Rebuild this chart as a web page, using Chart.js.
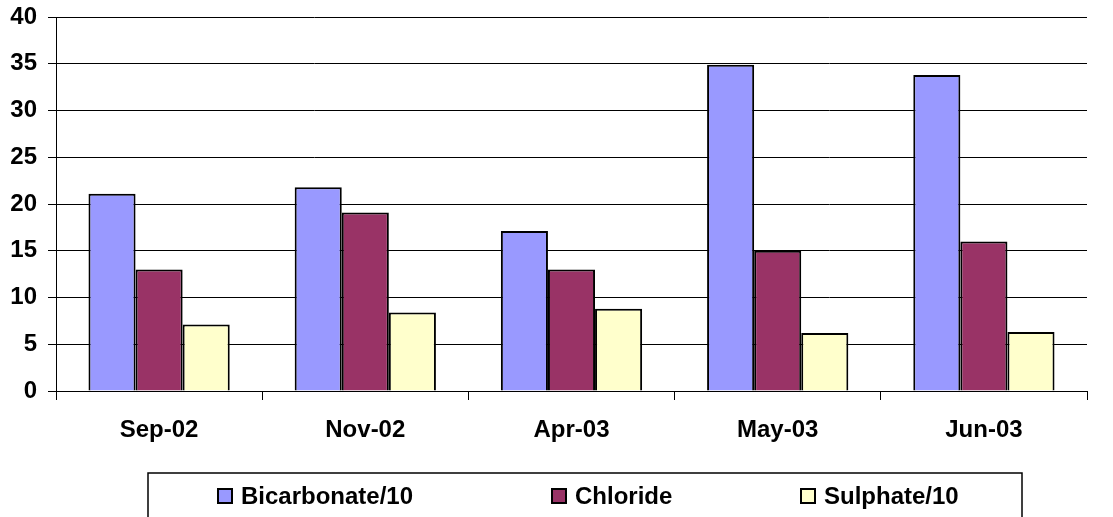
<!DOCTYPE html>
<html>
<head>
<meta charset="utf-8">
<script src="https://cdn.jsdelivr.net/npm/chart.js@4/dist/chart.umd.min.js"></script>
<style>
  html, body { margin: 0; padding: 0; background: #fff; }
  #wrap { width: 1113px; height: 517px; }
</style>
</head>
<body>
<div id="wrap"><canvas id="grafico" width="1113" height="517"></canvas></div>
<script>
const meses = ["Sep-02", "Nov-02", "Apr-03", "May-03", "Jun-03"];
const bicarbonato = [21.1, 21.8, 17.1, 34.9, 33.8];
const cloreto = [13.0, 19.1, 13.0, 15.0, 16.0];
const sulfato = [7.1, 8.4, 8.8, 6.2, 6.3];
const yTicks = [0, 5, 10, 15, 20, 25, 30, 35, 40];

const fonte = "'Liberation Sans', Arial, sans-serif";

// legenda desenhada à mão, com a caixa que aparece no original
const legendaBox = {
  id: "legendaBox",
  afterDraw(chart) {
    const ctx = chart.ctx;
    ctx.save();
    ctx.strokeStyle = "#000";
    ctx.lineWidth = 1.5;
    ctx.strokeRect(148, 473, 874, 60);
    const posX = [218, 552, 801];
    ctx.font = "bold 24px " + fonte;
    ctx.textBaseline = "middle";
    chart.data.datasets.forEach((ds, i) => {
      ctx.fillStyle = ds.backgroundColor;
      ctx.fillRect(posX[i], 489, 14, 14);
      ctx.lineWidth = 2;
      ctx.strokeRect(posX[i], 489, 14, 14);
      ctx.fillStyle = "#000";
      ctx.fillText(ds.label, posX[i] + 23, 497);
    });
    ctx.restore();
  },
};

new Chart(document.getElementById("grafico"), {
  type: "bar",
  data: {
    labels: meses,
    datasets: [
      {
        label: "Bicarbonate/10",
        data: bicarbonato,
        backgroundColor: "#9999FF",
        borderColor: "#000",
        borderWidth: 2,
      },
      {
        label: "Chloride",
        data: cloreto,
        backgroundColor: "#993366",
        borderColor: "#000",
        borderWidth: 2,
      },
      {
        label: "Sulphate/10",
        data: sulfato,
        backgroundColor: "#FFFFCC",
        borderColor: "#000",
        borderWidth: 2,
      },
    ],
  },
  options: {
    responsive: false,
    animation: false,
    layout: {
      padding: { left: 0, right: 26, top: 17, bottom: 66 },
    },
    datasets: {
      bar: { categoryPercentage: 0.685, barPercentage: 1.0 },
    },
    plugins: {
      legend: { display: false },
      tooltip: { enabled: false },
    },
    scales: {
      x: {
        grid: {
          offset: true,
          drawOnChartArea: false,
          drawTicks: true,
          tickLength: 9,
          color: "#000",
        },
        border: { color: "#000", width: 1 },
        ticks: {
          color: "#000",
          font: { family: fonte, size: 24, weight: "bold" },
          padding: 16,
        },
        afterFit(s) {
          s.height = 60;
          s.paddingLeft = 0;
          s.paddingRight = 0;
        },
      },
      y: {
        min: 0,
        max: 40,
        afterBuildTicks(s) { s.ticks = yTicks.map((v) => ({ value: v })); },
        grid: { color: "#000", lineWidth: 1, tickLength: 8 },
        border: { color: "#000", width: 1 },
        ticks: {
          color: "#000",
          font: { family: fonte, size: 24, weight: "bold" },
          padding: 11,
        },
        afterFit(s) {
          s.width = 56;
          s.paddingTop = 0;
          s.paddingBottom = 0;
        },
      },
    },
  },
  plugins: [legendaBox],
});
</script>
</body>
</html>
